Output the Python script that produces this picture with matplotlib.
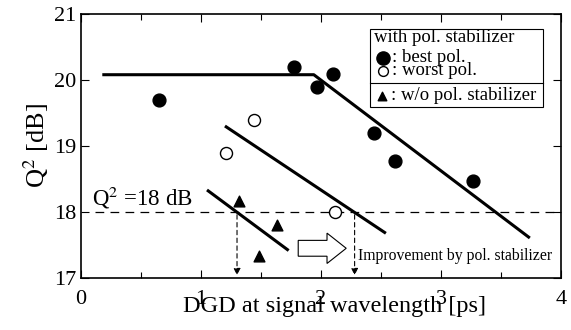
import matplotlib
matplotlib.use("Agg")
import matplotlib.pyplot as plt
from matplotlib.patches import FancyArrow, Rectangle

plt.rcParams['font.family'] = ['Liberation Serif', 'DejaVu Serif']
plt.rcParams['mathtext.fontset'] = 'stix'

# data
best_x = [0.65, 1.775, 1.97, 2.10, 2.44, 2.62, 3.27]
best_y = [19.70, 20.19, 19.90, 20.09, 19.20, 18.78, 18.47]
worst_x = [1.21, 1.44, 2.12]
worst_y = [18.89, 19.39, 18.00]
wo_x = [1.32, 1.63, 1.48]
wo_y = [18.17, 17.80, 17.33]

# fitted guide lines
best_line_x = [0.19, 1.94, 3.73]
best_line_y = [20.08, 20.08, 17.62]
worst_line_x = [1.21, 2.53]
worst_line_y = [19.29, 17.69]
wo_line_x = [1.06, 1.72]
wo_line_y = [18.32, 17.43]

threshold = 18
cross_x = [1.30, 2.28]

fig = plt.figure(figsize=(5.71, 3.30), dpi=100)
ax = fig.add_axes([0.1419, 0.1576, 0.8406, 0.8])

ax.plot(best_line_x, best_line_y, color='black', lw=2.2)
ax.plot(worst_line_x, worst_line_y, color='black', lw=2.2)
ax.plot(wo_line_x, wo_line_y, color='black', lw=2.2)

ax.plot([0.12, 4], [threshold, threshold], color='black', lw=0.9, dashes=(7, 5))

ax.scatter(best_x, best_y, s=85, color='black', zorder=3)
ax.scatter(worst_x, worst_y, s=75, facecolor='white', edgecolor='black', lw=1.0, zorder=3)
ax.scatter(wo_x, wo_y, s=60, marker='^', color='black', zorder=3)

# vertical dashed arrows down to the axis
for cx in cross_x:
    ax.annotate('', xy=(cx, 17.0), xytext=(cx, threshold),
                arrowprops=dict(arrowstyle='-|>', color='black', lw=0.8,
                                linestyle=(0, (4, 3)), mutation_scale=10))

# hollow arrow
ax.add_patch(FancyArrow(1.81, 17.45, 0.40, 0, width=0.24, head_width=0.46,
                        head_length=0.16, length_includes_head=True,
                        facecolor='white', edgecolor='black', lw=0.8, zorder=3))
ax.text(2.31, 17.34, 'Improvement by pol. stabilizer', fontsize=11.3, va='center', ha='left')

ax.text(0.09, 18.22, r'Q$^2$ =18 dB', fontsize=16.5, va='center', ha='left')

# legend box
ax.add_patch(Rectangle((2.41, 19.59), 1.44, 1.18, facecolor='white', edgecolor='black',
                       lw=0.8, zorder=4))
ax.plot([2.41, 3.85], [19.95, 19.95], color='black', lw=0.8, zorder=5)
ax.text(2.44, 20.65, 'with pol. stabilizer', fontsize=13.5, va='center', zorder=5)
ax.scatter([2.52], [20.33], s=90, color='black', zorder=5)
ax.text(2.595, 20.34, ': best pol.', fontsize=13.5, va='center', zorder=5)
ax.scatter([2.52], [20.13], s=50, facecolor='white', edgecolor='black', lw=1.0, zorder=5)
ax.text(2.595, 20.14, ': worst pol.', fontsize=13.5, va='center', zorder=5)
ax.scatter([2.51], [19.75], s=38, marker='^', color='black', zorder=5)
ax.text(2.585, 19.77, ': w/o pol. stabilizer', fontsize=13.5, va='center', zorder=5)

ax.set_xlim(0, 4)
ax.set_ylim(17, 21)
ax.set_xticks([0, 1, 2, 3, 4])
ax.set_xticks([0.5, 1.5, 2.5, 3.5], minor=True)
ax.set_yticks([17, 18, 19, 20, 21])
ax.tick_params(which='both', direction='in', top=True, right=True, labelsize=16,
               width=0.8)
ax.tick_params(which='major', length=6)
ax.tick_params(which='minor', length=4)
ax.tick_params(axis='x', pad=9)
for sp in ax.spines.values():
    sp.set_linewidth(1.2)

ax.set_xlabel('DGD at signal wavelength [ps]', fontsize=17.5)
ax.xaxis.set_label_coords(0.528, -0.068)
ax.set_ylabel(r'Q$^2$ [dB]', fontsize=19, labelpad=2)

fig.savefig('out.png', dpi=100)
